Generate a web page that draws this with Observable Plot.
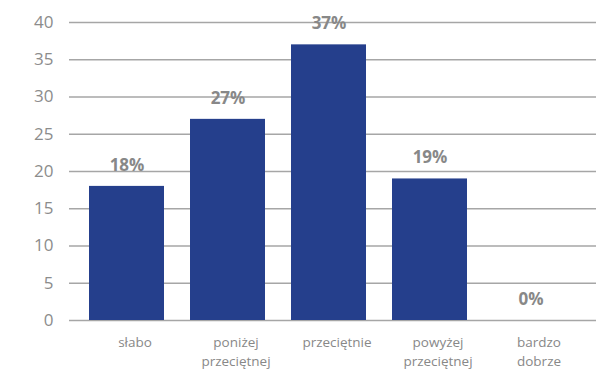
<!DOCTYPE html>
<html><head><meta charset="utf-8">
<script src="https://cdn.jsdelivr.net/npm/d3@7"></script>
<script src="https://cdn.jsdelivr.net/npm/@observablehq/plot@0.6"></script>
<style>body{margin:0;background:#fff;font-family:"Open Sans",sans-serif}</style>
</head><body><div id="chart"></div>
<script>
const categories = ["słabo", "poniżej\nprzeciętnej", "przeciętnie", "powyżej\nprzeciętnej", "bardzo\ndobrze"];
const values = [18, 27, 37, 19, 0];
const yTicks = [0, 5, 10, 15, 20, 25, 30, 35, 40];
const data = categories.map((c, i) => ({cat: c, v: values[i]}));
const gray = "#888888";
const chart = Plot.plot({
  width: 611, height: 370,
  marginLeft: 69, marginRight: 15, marginTop: 22, marginBottom: 50,
  style: {fontFamily: "Open Sans, sans-serif", background: "#fff"},
  x: {domain: categories, paddingInner: 0.26, paddingOuter: 0, insetLeft: 19, insetRight: 27, label: null},
  y: {domain: [0, 40], label: null},
  marks: [
    Plot.ruleY(yTicks, {stroke: "#a6a6a6", strokeWidth: 1.5}),
    Plot.barY(data, {x: "cat", y: "v", fill: "#253f8c"}),
    Plot.text(data, {x: "cat", y: "v", text: d => d.v + "%", dy: -21, fill: gray, fontWeight: "bold", fontSize: 17}),
    Plot.axisY({ticks: yTicks, tickSize: 0, tickPadding: 16, fontSize: 17, color: "#8c8c8c", label: null}),
    Plot.axisX({tickSize: 0, tickPadding: 14, fontSize: 13.5, dx: 8, color: gray, label: null, lineHeight: 1.35})
  ]
});
document.getElementById("chart").append(chart);
</script></body></html>
